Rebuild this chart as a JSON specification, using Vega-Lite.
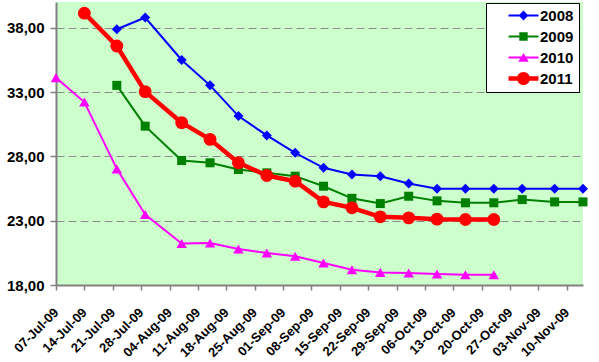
{
  "$schema": "https://vega.github.io/schema/vega-lite/v6.json",
  "width": 527,
  "height": 283,
  "autosize": {"type": "none"},
  "padding": {"left": 56, "top": 2, "right": 16, "bottom": 77},
  "background": "white",
  "config": {
    "view": {"stroke": null, "fill": "#CCFFCC"},
    "font": "Liberation Sans"
  },
  "datasets": {
    "prices": [
      {"date": "2009-07-22", "series": "2008", "value": 37.88},
      {"date": "2009-07-29", "series": "2008", "value": 38.79},
      {"date": "2009-08-07", "series": "2008", "value": 35.49},
      {"date": "2009-08-14", "series": "2008", "value": 33.52},
      {"date": "2009-08-21", "series": "2008", "value": 31.13},
      {"date": "2009-08-28", "series": "2008", "value": 29.63},
      {"date": "2009-09-04", "series": "2008", "value": 28.28},
      {"date": "2009-09-11", "series": "2008", "value": 27.11},
      {"date": "2009-09-18", "series": "2008", "value": 26.59},
      {"date": "2009-09-25", "series": "2008", "value": 26.46},
      {"date": "2009-10-02", "series": "2008", "value": 25.89},
      {"date": "2009-10-09", "series": "2008", "value": 25.48},
      {"date": "2009-10-16", "series": "2008", "value": 25.48},
      {"date": "2009-10-23", "series": "2008", "value": 25.48},
      {"date": "2009-10-30", "series": "2008", "value": 25.48},
      {"date": "2009-11-07", "series": "2008", "value": 25.48},
      {"date": "2009-11-14", "series": "2008", "value": 25.48},
      {"date": "2009-07-22", "series": "2009", "value": 33.52},
      {"date": "2009-07-29", "series": "2009", "value": 30.35},
      {"date": "2009-08-07", "series": "2009", "value": 27.68},
      {"date": "2009-08-14", "series": "2009", "value": 27.5},
      {"date": "2009-08-21", "series": "2009", "value": 26.98},
      {"date": "2009-08-28", "series": "2009", "value": 26.72},
      {"date": "2009-09-04", "series": "2009", "value": 26.46},
      {"date": "2009-09-11", "series": "2009", "value": 25.68},
      {"date": "2009-09-18", "series": "2009", "value": 24.74},
      {"date": "2009-09-25", "series": "2009", "value": 24.33},
      {"date": "2009-10-02", "series": "2009", "value": 24.9},
      {"date": "2009-10-09", "series": "2009", "value": 24.54},
      {"date": "2009-10-16", "series": "2009", "value": 24.39},
      {"date": "2009-10-23", "series": "2009", "value": 24.39},
      {"date": "2009-10-30", "series": "2009", "value": 24.64},
      {"date": "2009-11-07", "series": "2009", "value": 24.46},
      {"date": "2009-11-14", "series": "2009", "value": 24.46},
      {"date": "2009-07-07", "series": "2010", "value": 34.12},
      {"date": "2009-07-14", "series": "2010", "value": 32.22},
      {"date": "2009-07-22", "series": "2010", "value": 27.03},
      {"date": "2009-07-29", "series": "2010", "value": 23.48},
      {"date": "2009-08-07", "series": "2010", "value": 21.22},
      {"date": "2009-08-14", "series": "2010", "value": 21.27},
      {"date": "2009-08-21", "series": "2010", "value": 20.8},
      {"date": "2009-08-28", "series": "2010", "value": 20.49},
      {"date": "2009-09-04", "series": "2010", "value": 20.23},
      {"date": "2009-09-11", "series": "2010", "value": 19.71},
      {"date": "2009-09-18", "series": "2010", "value": 19.19},
      {"date": "2009-09-25", "series": "2010", "value": 18.98},
      {"date": "2009-10-02", "series": "2010", "value": 18.93},
      {"date": "2009-10-09", "series": "2010", "value": 18.86},
      {"date": "2009-10-16", "series": "2010", "value": 18.8},
      {"date": "2009-10-23", "series": "2010", "value": 18.8},
      {"date": "2009-07-14", "series": "2011", "value": 39.13},
      {"date": "2009-07-22", "series": "2011", "value": 36.58},
      {"date": "2009-07-29", "series": "2011", "value": 33.03},
      {"date": "2009-08-07", "series": "2011", "value": 30.62},
      {"date": "2009-08-14", "series": "2011", "value": 29.32},
      {"date": "2009-08-21", "series": "2011", "value": 27.5},
      {"date": "2009-08-28", "series": "2011", "value": 26.51},
      {"date": "2009-09-04", "series": "2011", "value": 26.07},
      {"date": "2009-09-11", "series": "2011", "value": 24.46},
      {"date": "2009-09-18", "series": "2011", "value": 24.0},
      {"date": "2009-09-25", "series": "2011", "value": 23.3},
      {"date": "2009-10-02", "series": "2011", "value": 23.22},
      {"date": "2009-10-09", "series": "2011", "value": 23.12},
      {"date": "2009-10-16", "series": "2011", "value": 23.09},
      {"date": "2009-10-23", "series": "2011", "value": 23.09}
    ]
  },
  "data": {"name": "prices"},
  "encoding": {
    "x": {
      "field": "date",
      "type": "temporal",
      "title": null,
      "scale": {
        "type": "utc",
        "domain": [
          {"year": 2009, "month": 7, "date": 7, "utc": true},
          {"year": 2009, "month": 11, "date": 14, "utc": true}
        ]
      },
      "axis": {
        "values": [
          {"year": 2009, "month": 7, "date": 7, "utc": true},
          {"year": 2009, "month": 7, "date": 14, "utc": true},
          {"year": 2009, "month": 7, "date": 21, "utc": true},
          {"year": 2009, "month": 7, "date": 28, "utc": true},
          {"year": 2009, "month": 8, "date": 4, "utc": true},
          {"year": 2009, "month": 8, "date": 11, "utc": true},
          {"year": 2009, "month": 8, "date": 18, "utc": true},
          {"year": 2009, "month": 8, "date": 25, "utc": true},
          {"year": 2009, "month": 9, "date": 1, "utc": true},
          {"year": 2009, "month": 9, "date": 8, "utc": true},
          {"year": 2009, "month": 9, "date": 15, "utc": true},
          {"year": 2009, "month": 9, "date": 22, "utc": true},
          {"year": 2009, "month": 9, "date": 29, "utc": true},
          {"year": 2009, "month": 10, "date": 6, "utc": true},
          {"year": 2009, "month": 10, "date": 13, "utc": true},
          {"year": 2009, "month": 10, "date": 20, "utc": true},
          {"year": 2009, "month": 10, "date": 27, "utc": true},
          {"year": 2009, "month": 11, "date": 3, "utc": true},
          {"year": 2009, "month": 11, "date": 10, "utc": true}
        ],
        "labelExpr": "utcFormat(datum.value, '%d-%b-%y')",
        "labelAngle": -45,
        "labelAlign": "right",
        "labelBaseline": "middle",
        "labelFont": "Liberation Sans",
        "labelFontWeight": "bold",
        "labelFontSize": 13,
        "labelColor": "black",
        "labelPadding": 20,
        "labelOverlap": false,
        "labelFlush": false,
        "grid": false,
        "tickColor": "#808080",
        "tickSize": 5,
        "tickWidth": 1.5,
        "domainColor": "#808080",
        "domainWidth": 2
      }
    },
    "y": {
      "field": "value",
      "type": "quantitative",
      "title": null,
      "scale": {"domain": [18, 40], "nice": false, "zero": false},
      "axis": {
        "values": [18, 23, 28, 33, 38],
        "labelExpr": "replace(format(datum.value, '.2f'), '.', ',')",
        "labelFont": "Liberation Sans",
        "labelFontWeight": "bold",
        "labelFontSize": 15,
        "labelColor": "black",
        "labelPadding": 6,
        "tickColor": "#808080",
        "tickSize": 6,
        "tickWidth": 1.5,
        "domainColor": "#808080",
        "domainWidth": 2,
        "grid": true,
        "gridColor": "#8c8c8c",
        "gridDash": [8, 4],
        "gridWidth": 1
      }
    }
  },
  "layer": [
    {
      "transform": [{"filter": {"field": "value", "lt": 0}}],
      "mark": {"type": "point", "filled": true, "opacity": 1},
      "encoding": {
        "color": {
          "field": "series", "type": "nominal",
          "scale": {"domain": ["2008", "2009", "2010", "2011"], "range": ["#0000FF", "#008000", "#FF00FF", "#FF0000"]},
          "legend": {
            "title": null,
            "orient": "none",
            "legendX": 430,
            "legendY": 1,
            "padding": 5,
            "fillColor": "white",
            "strokeColor": "black",
            "symbolSize": 196,
            "symbolOpacity": 1,
            "symbolStrokeWidth": 0,
            "symbolOffset": 25,
            "labelOffset": 9,
            "rowPadding": 5,
            "labelFont": "Liberation Sans",
            "labelFontWeight": "bold",
            "labelFontSize": 15,
            "labelColor": "black",
            "labelExpr": "datum.label + '\u2003'"
          }
        },
        "shape": {
          "field": "series", "type": "nominal",
          "scale": {
            "domain": ["2008", "2009", "2010", "2011"],
            "range": [
              "M-2.14,-0.14H2.14V0.14H-2.14ZM0,-0.71L0.71,0L0,0.71L-0.71,0Z",
              "M-2.14,-0.14H2.14V0.14H-2.14ZM-0.6,-0.6H0.6V0.6H-0.6Z",
              "M-2.14,-0.14H2.14V0.14H-2.14ZM0,-0.66L0.74,0.6L-0.74,0.6Z",
              "M-2.14,-0.32H2.14V0.32H-2.14ZM-0.93,0A0.93,0.93 0 1,1 0.93,0A0.93,0.93 0 1,1 -0.93,0Z"
            ]
          }
        }
      }
    },
    {
      "transform": [{"filter": {"field": "series", "equal": "2008"}}],
      "mark": {"type": "line", "color": "#0000FF", "strokeWidth": 2}
    },
    {
      "transform": [{"filter": {"field": "series", "equal": "2008"}}],
      "mark": {"type": "point", "shape": "diamond", "filled": true, "opacity": 1, "color": "#0000FF", "size": 100}
    },
    {
      "transform": [{"filter": {"field": "series", "equal": "2009"}}],
      "mark": {"type": "line", "color": "#008000", "strokeWidth": 2}
    },
    {
      "transform": [{"filter": {"field": "series", "equal": "2009"}}],
      "mark": {"type": "point", "shape": "square", "filled": true, "opacity": 1, "color": "#008000", "size": 81}
    },
    {
      "transform": [{"filter": {"field": "series", "equal": "2010"}}],
      "mark": {"type": "line", "color": "#FF00FF", "strokeWidth": 2}
    },
    {
      "transform": [{"filter": {"field": "series", "equal": "2010"}}],
      "mark": {"type": "point", "shape": "triangle-up", "filled": true, "opacity": 1, "color": "#FF00FF", "size": 110}
    },
    {
      "transform": [{"filter": {"field": "series", "equal": "2011"}}],
      "mark": {"type": "line", "color": "#FF0000", "strokeWidth": 4.5, "strokeJoin": "round"}
    },
    {
      "transform": [{"filter": {"field": "series", "equal": "2011"}}],
      "mark": {"type": "point", "shape": "circle", "filled": true, "opacity": 1, "color": "#FF0000", "size": 165}
    }
  ]
}
